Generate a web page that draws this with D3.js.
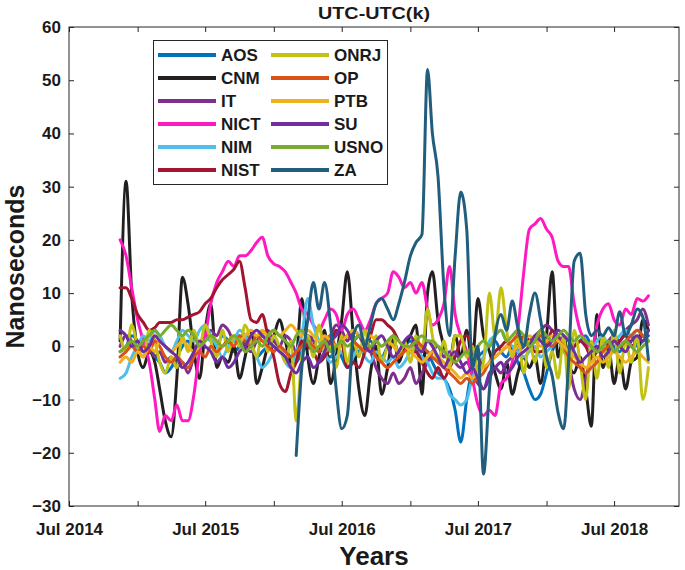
<!DOCTYPE html>
<html>
<head>
<meta charset="utf-8">
<script src="https://cdn.jsdelivr.net/npm/d3@7"></script>
<style>
    body { margin: 0; background: #fff; }
    svg { display: block; font-family: Arial, "Liberation Sans", sans-serif; }
</style>
</head>
<body>
<div id="chart"></div>
<script>
// Series names and colours, in legend order (also the drawing order)
var seriesNames = ["AOS", "CNM", "IT", "NICT", "NIM", "NIST", "ONRJ", "OP", "PTB", "SU", "USNO", "ZA"];
var seriesColors = ["#0072BD", "#231F20", "#7E2F8E", "#FF19C1", "#4DBEEE", "#A2142F",
                    "#C2C215", "#D95319", "#EDB120", "#6F2DA0", "#77AC30", "#215E7D"];

// Values in ns, one every half month from 15 Nov 2014 to 1 Oct 2018 (94 points)
var aos = [-1, 0, 2, 1, -1, 0, -2, -3, -5, -4,
    -2, 0, 1, -1, 0, 2, 1, 0, 2, 1,
    -1, 0, 1, 0, -2, -1, 0, 1, 0, -1,
    -2, -3, -1, 0, 2, 1, -1, -2, 0, -2,
    -4, -3, -1, 0, 1, -1, -2, 0, 1, -1,
    0, 1, -1, -2, -1, -3, -5, -6, -8, -12,
    -18, -10, -4, -2, -1, 0, 1, -1, -2, 0,
    -3, -5, -8, -10, -9, -5, -1, 1, 0, -1,
    0, 1, 2, 0, -1, 0, 1, 0, -1, 1,
    2, 0, 1, 2];
var cnm = [1, 31, 10, -1, -4, -1, -3, -8, -14, -17,
    -6, 13, 8, -1, -6, 3, 8, -4, -2, -3,
    0, -6, -2, 3, -7, -4, 0, 2, 5, 1,
    -3, -2, 9, -2, -7, -2, 3, -7, -2, 5,
    14, 2, -8, -13, -5, 0, -9, -4, 2, -3,
    0, 2, 4, -9, 10, 14, 5, 0, -3, 2,
    -2, 3, -3, 9, 2, -1, -5, -8, -3, -9,
    -5, -2, -4, -2, -7, 2, 14, -2, 2, -3,
    -5, -2, -8, -15, 6, -4, 0, -7, -2, -8,
    -3, -2, 5, 3];
var it = [0, 2, 1, -1, 1, 0, -2, -1, -3, -2,
    -4, -3, -5, -2, 0, 1, 3, 2, 4, 3,
    1, 2, 0, -1, 1, 2, 3, 1, 0, 2,
    1, -1, 0, 2, 1, -1, 0, 2, 4, 3,
    1, 3, 2, 0, -1, -4, -6, -7, -5, -7,
    -6, -4, -7, -5, -3, -1, 0, -2, -1, -3,
    -4, -3, -5, -7, -8, -6, -4, -5, -3, -2,
    -1, 0, 1, 2, 3, 4, 3, 2, 0, -3,
    -8, -10, -6, -2, 0, -1, 1, 2, 1, 3,
    4, 5, 7, 4];
var nict = [20, 17, 11, 5, 1, -3, -10, -16, -13, -14,
    -11, -14, -14, -9, -1, 2, 8, 12, 14, 16,
    15, 17, 17, 18, 19.5, 20.5, 17, 15.5, 15, 14,
    12, 10, 7, 6, 4, 3, 5, 7, 6, 3,
    6, 7, 5, 3, 5, 8, 9, 10, 14, 13,
    11, 12, 10, 12, 7, 4, 5, 8, 15, 6,
    2, -1, -6, -11, -13, -12, -13, -7, -6, -3,
    3, 14, 22, 23, 24, 22, 20.5, 16, 15, 15,
    8, 3, 1, -1, 4, 7, 8, 5, 4, 7,
    6, 9, 8.5, 9.5];
var nim = [-6, -5, -2, 0, 2, 1, 3, 2, 0, -1,
    1, 3, 2, 1, 3, 4, 2, 0, -2, 0,
    1, 3, 2, 0, -2, -4, -3, -1, 0, -3,
    -4, -1, 2, 9, 4, 1, -1, -3, -2, -1,
    -3, -2, 0, -2, -3, -1, -2, -3, -2, -4,
    -3, -1, 0, -2, -3, -5, -6, -6, -9, -10,
    -11, -10, -6, -4, -2, 1, 2, 3, 1, 0,
    -1, -2, -1, 0, -2, -1, 0, 1, -1, -2,
    0, 1, 0, -1, 1, 2, 0, 1, 2, 3,
    2, 3, 2, 1];
var nist = [11, 11, 9, 6, 4.5, 3, 3.5, 4.5, 4.5, 4.5,
    5, 5, 5.5, 6, 6.5, 8, 9, 11, 12.5, 13.5,
    14.5, 16, 11, 5, 4.5, 6, 2, -2, -7, -8.5,
    -5, -3, 1, 0, -1, -3, -2, 0, 3, 1,
    -4, -3, -4, -1, 2, 5, 5, 4, 3, 1,
    0, -1, -1, -3, -5, -6, -4, -6, -4, -2,
    1, 2, 0, -2, -4, -3, -1, 0, 1, -1,
    0, 2, 1, -1, -1, 0, 3, 1, 0, -1,
    0, 1, 0, -2, -1, 1, 0, -1, 1, 2,
    0, 1, 2, 1];
var onrj = [2, -1, 4, 0, -2, 3, 1, -3, -5, -2,
    -4, 2, -1, 3, 0, 4, 1, -2, 3, -1,
    2, 0, 4, 1, -2, 3, -1, 2, 0, -3,
    1, -14, -2, 2, -2, 4, -1, 0, -4, 2,
    -3, 1, -2, 3, -1, 2, -3, 0, 2, -2,
    1, -3, 2, -1, 7, 2, -3, 1, -4, 2,
    2, -2, 0, -5, -3, 10, 2, 11, 3, -2,
    2, -5, 1, -3, 3, -4, -1, -6, 2, -8,
    3, -3, -10, 1, -6, 2, -4, 3, -5, 1,
    -3, 2, -10, -4];
var op = [-2, -1, 0, -1, 0, -1, 1, 0, -2, -3,
    -2, -3, -4, -2, -1, -2, 0, -1, 0, 1,
    0, 2, 1, 0, 2, 1, 0, -1, 0, -1,
    -2, -1, 0, 1, 0, -1, 1, 2, 0, 1,
    2, 1, 0, -1, 0, -2, -3, -4, -3, -2,
    -1, 0, 1, 0, -1, -2, -3, -4, -5, -6,
    -7, -6, -7, -6, -5, -3, -2, -1, 0, 1,
    2, 1, 0, 1, 2, 1, 0, 1, 0, -2,
    -3, -4, -5, -4, -3, -1, 0, 1, 0, 1,
    2, 3, 2, 1];
var ptb = [-3, -2, -3, -1, -2, 0, -1, 1, 0, -1,
    0, 1, 0, -1, 0, 1, 2, 1, 0, 1,
    2, 1, 2, 3, 2, 3, 2, 3, 2, 3,
    4, 3, 2, 3, 2, 1, 2, 1, 0, 1,
    2, 3, 2, 1, 2, 1, 0, 1, 0, -1,
    0, -1, -2, -3, -2, -1, -2, -3, -4, -5,
    -6, -5, -6, -5, -4, -3, -2, -1, 0, -1,
    0, 1, 2, 1, 0, 1, 2, 1, 0, -1,
    -2, -3, -4, -3, -2, -3, -2, -1, -2, -3,
    -2, -1, -2, -3];
var su = [3, 2, 0, 1, -1, 0, 2, 1, 0, -1,
    -2, -4, -3, -1, 1, 0, -1, -3, -2, -4,
    -3, -1, 0, 2, 3, 2, 1, 0, -1, -2,
    -4, -5, -3, -2, -4, -3, -1, 1, 2, 4,
    3, 1, 2, 0, -1, 1, 2, 0, -2, -1,
    1, 2, 0, -1, 1, 0, -2, -4, -2, -1,
    -3, -5, -4, -6, -8, -5, -4, -3, -5, -4,
    -2, -1, 0, 2, 1, 0, 1, 3, 2, 1,
    -1, -3, -2, -1, 0, -2, -1, 1, 0, -1,
    1, 2, 1, 3];
var usno = [-1, 0, 1, 0, 1, 2, 3, 2, 3, 4,
    3, 2, 3, 2, 0, 1, 2, 1, 0, 1,
    2, 1, -1, 0, 1, 0, 2, 3, 2, 1,
    0, 2, 3, 1, -1, 0, 1, -1, 0, 1,
    0, 1, 2, 1, 0, 1, 0, 1, 2, 1,
    0, 0, 1, 2, 1, 1, 0, -1, -2, -3,
    -2, -1, -2, 0, 1, 0, 2, 3, 1, 2,
    3, 2, 0, 1, 3, 2, 1, 2, 3, 2,
    1, 2, 1, 0, -1, 0, 1, -1, 0, 1,
    0, -1, 0, 1];
// ZA only reports from March 2016 on
var za = [null, null, null, null, null, null, null, null, null, null,
    null, null, null, null, null, null, null, null, null, null,
    null, null, null, null, null, null, null, null, null, null,
    null, -20.5, -4, 5, 12, 7, 12, 4, -8, -15.5,
    -13, 2, 4, 0, 4, 8, 9, 7, 5, 8,
    12, 17, 19.5, 21, 52, 40, 32, 11, 2, 17,
    29, 22, -4, 0, -24, -8, 2, 6, 3, 8.5,
    3.5, 0, 6, 10, 5, -2, -5.5, -12.5, -15.5, -3,
    16, 17.5, 6, 2, 3, 2, 3.5, 2, 6.5, 2,
    4, 7, 5.5, -2.5];

var seriesValues = [aos, cnm, it, nict, nim, nist, onrj, op, ptb, su, usno, za];

// Axis ticks
var yTickValues = [-30, -20, -10, 0, 10, 20, 30, 40, 50, 60];
var xTickLabels = ["Jul 2014", "Jul 2015", "Jul 2016", "Jul 2017", "Jul 2018"];

// Sample dates: 15 Nov 2014, then the 1st and 16th of each month, then 1 Oct 2018
var sampleDates = [new Date(Date.UTC(2014, 10, 15))];
d3.utcMonth.range(new Date(Date.UTC(2014, 11, 1)), new Date(Date.UTC(2018, 9, 1))).forEach(function (m) {
    sampleDates.push(m, d3.utcDay.offset(m, 15));
});
sampleDates.push(new Date(Date.UTC(2018, 9, 1)));

// Layout
var width = 685,
    height = 570,
    margin = { left: 69, right: 6, top: 27, bottom: 64 },
    plotW = width - margin.left - margin.right,
    plotH = height - margin.top - margin.bottom,
    tickLen = 5,
    axisColor = "#262626";

var svg = d3.select("#chart").append("svg")
    .attr("width", width)
    .attr("height", height);

var x = d3.scaleUtc()
    .domain([new Date(Date.UTC(2014, 6, 1)), new Date(Date.UTC(2018, 11, 22))])
    .range([margin.left, margin.left + plotW]);

var y = d3.scaleLinear()
    .domain([-30, 60])
    .range([margin.top + plotH, margin.top]);

// Ticks every six months, labels only on July
var xTickDates = d3.utcMonth.every(6).range(new Date(Date.UTC(2014, 6, 1)), new Date(Date.UTC(2018, 7, 1)));
var fmt = d3.utcFormat("%b %Y");
var xLabel = function (d) {
    var s = fmt(d);
    return xTickLabels.indexOf(s) >= 0 ? s : "";
};

// Data lines go first, axes on top of them like MATLAB's box
var line = d3.line()
    .defined(function (d) { return d[1] != null; })
    .curve(d3.curveMonotoneX)
    .x(function (d) { return x(d[0]); })
    .y(function (d) { return y(d[1]); });

svg.append("g")
    .attr("class", "series")
    .selectAll("path")
    .data(seriesValues)
    .enter()
    .append("path")
        .attr("d", function (vals) {
            return line(vals.map(function (v, i) { return [sampleDates[i], v]; }));
        })
        .attr("fill", "none")
        .attr("stroke", function (d, i) { return seriesColors[i]; })
        .attr("stroke-width", 3)
        .attr("stroke-linejoin", "round")
        .attr("stroke-linecap", "round");

// Axes, ticks pointing inwards on all four sides
function styleAxis(g) {
    g.select(".domain").remove();
    g.selectAll(".tick line").attr("stroke", axisColor);
    g.selectAll(".tick text")
        .attr("fill", "#1a1a1a")
        .style("font-size", "17px")
        .style("font-weight", "bold");
}

svg.append("g")
    .attr("transform", "translate(0," + (margin.top + plotH) + ")")
    .call(d3.axisBottom(x).tickValues(xTickDates).tickFormat(xLabel)
        .tickSizeInner(-tickLen).tickSizeOuter(0).tickPadding(17))
    .call(styleAxis);

svg.append("g")
    .attr("transform", "translate(0," + margin.top + ")")
    .call(d3.axisTop(x).tickValues(xTickDates).tickFormat("")
        .tickSizeInner(-tickLen).tickSizeOuter(0))
    .call(styleAxis);

svg.append("g")
    .attr("transform", "translate(" + margin.left + ",0)")
    .call(d3.axisLeft(y).tickValues(yTickValues)
        .tickSizeInner(-tickLen).tickSizeOuter(0).tickPadding(8))
    .call(styleAxis);

svg.append("g")
    .attr("transform", "translate(" + (margin.left + plotW) + ",0)")
    .call(d3.axisRight(y).tickValues(yTickValues).tickFormat("")
        .tickSizeInner(-tickLen).tickSizeOuter(0))
    .call(styleAxis);

// Box round the plot
svg.append("rect")
    .attr("x", margin.left)
    .attr("y", margin.top)
    .attr("width", plotW)
    .attr("height", plotH)
    .attr("fill", "none")
    .attr("stroke", axisColor)
    .attr("stroke-width", 1);

// Titles
svg.append("text")
    .attr("x", margin.left + plotW / 2)
    .attr("y", 18.5)
    .attr("text-anchor", "middle")
    .attr("textLength", 112)
    .attr("lengthAdjust", "spacingAndGlyphs")
    .style("font-size", "16.5px")
    .style("font-weight", "bold")
    .attr("fill", "#1a1a1a")
    .text("UTC-UTC(k)");

svg.append("text")
    .attr("x", margin.left + plotW / 2)
    .attr("y", 565)
    .attr("text-anchor", "middle")
    .style("font-size", "26px")
    .style("font-weight", "bold")
    .attr("fill", "#1a1a1a")
    .text("Years");

svg.append("text")
    .attr("transform", "translate(23.5," + (margin.top + plotH / 2) + ") rotate(-90)")
    .attr("text-anchor", "middle")
    .style("font-size", "25px")
    .style("font-weight", "bold")
    .attr("fill", "#1a1a1a")
    .text("Nanoseconds");

// Legend, two columns of six
var legend = svg.append("g").attr("class", "legend");
var legX = 153, legY = 40, legW = 234, legH = 144,
    rowStep = 23, colStep = 113, keyW = 58;

legend.append("rect")
    .attr("x", legX + 0.5)
    .attr("y", legY + 0.5)
    .attr("width", legW)
    .attr("height", legH)
    .attr("fill", "#fff")
    .attr("stroke", axisColor)
    .attr("stroke-width", 1);

var entries = legend.selectAll(".entry")
    .data(seriesNames)
    .enter()
    .append("g")
        .attr("class", "entry")
        .attr("transform", function (d, i) {
            return "translate(" + (legX + 5 + Math.floor(i / 6) * colStep) + "," + (legY + 15 + (i % 6) * rowStep) + ")";
        });

entries.append("line")
    .attr("x1", 0)
    .attr("x2", keyW)
    .attr("stroke", function (d, i) { return seriesColors[i]; })
    .attr("stroke-width", 4);

entries.append("text")
    .attr("x", keyW + 5)
    .attr("dy", "0.36em")
    .style("font-size", "17px")
    .style("font-weight", "bold")
    .attr("fill", "#1a1a1a")
    .text(function (d) { return d; });
</script>
</body>
</html>
